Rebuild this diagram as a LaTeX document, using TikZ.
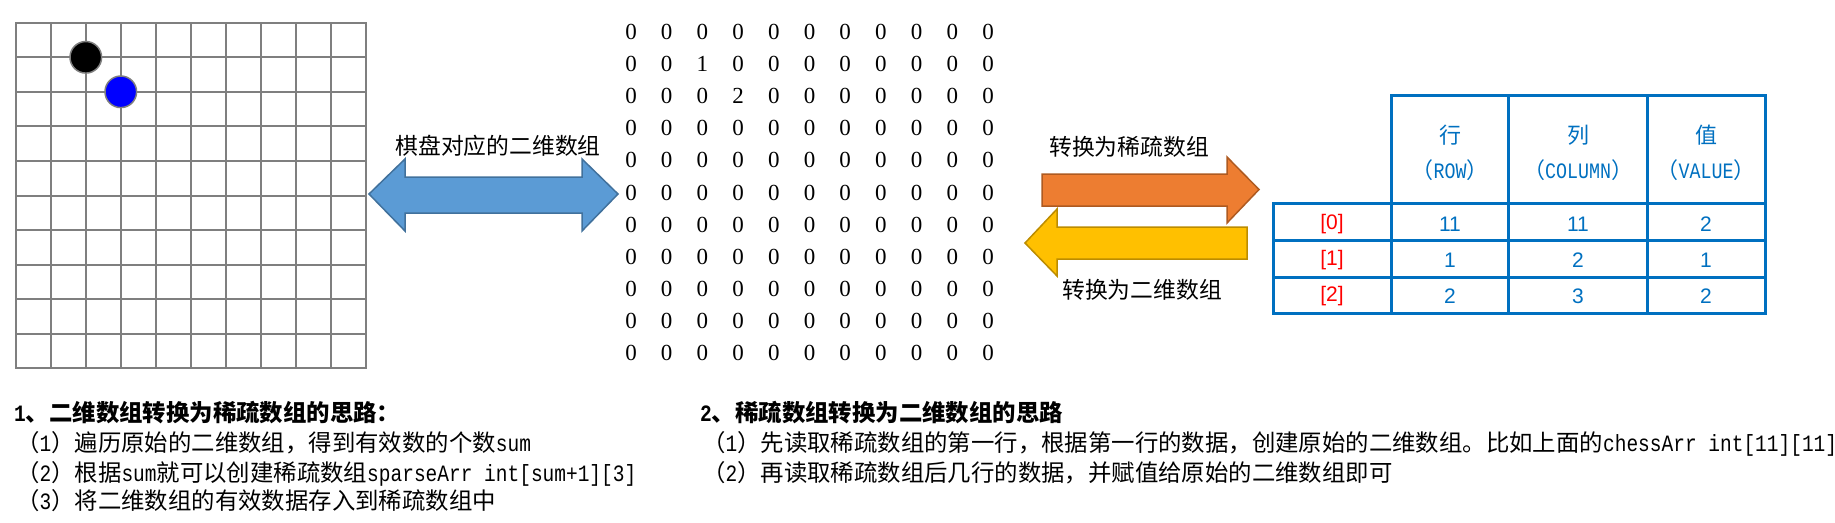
\documentclass[tikz,border=0pt]{standalone}
\usepackage{fontspec}
\setmainfont{Noto Sans CJK SC}
\newfontfamily\hwfont{Liberation Mono}[FakeStretch=0.8333]
\newfontfamily\digitfont{Liberation Serif}
\newfontfamily\arialfont{Liberation Sans}
\newcommand\hw[1]{{\hwfont #1}}
\definecolor{gridgray}{HTML}{7F7F7F}
\definecolor{dblfill}{HTML}{5B9BD5}
\definecolor{dbldraw}{HTML}{41719C}
\definecolor{orfill}{HTML}{ED7D31}
\definecolor{ordraw}{HTML}{AE5A21}
\definecolor{yefill}{HTML}{FFC000}
\definecolor{yedraw}{HTML}{BC8C00}
\definecolor{tblue}{HTML}{0070C0}
\definecolor{tred}{HTML}{FF0000}
\tikzset{
  gridline/.style={draw=gridgray, line width=2pt},
  stone/.style={circle, draw=gridgray, line width=1.5pt, minimum size=31.6pt, inner sep=0pt},
  digit/.style={inner sep=0pt, font=\digitfont\fontsize{23}{26}\selectfont},
  lbl/.style={inner sep=0pt, font=\fontsize{22.8}{27}\selectfont},
  tline/.style={draw=tblue, line width=3pt},
  hdr/.style={inner sep=0pt, text=tblue, font=\fontsize{22}{26}\selectfont},
  cellv/.style={inner sep=0pt, text=tblue, font=\arialfont\fontsize{21}{25}\selectfont},
  idx/.style={inner sep=0pt, text=tred, font=\arialfont\fontsize{21}{25}\selectfont},
  txt/.style={inner sep=0pt, anchor=base west, font=\fontsize{23.4}{28}\selectfont},
  blockarrow/.style={line width=1.5pt, line join=miter},
}
\begin{document}
\begin{tikzpicture}[x=1pt,y=-1pt]
\useasboundingbox (0,0) rectangle (1835,522);
% chess board grid
\foreach \i in {0,...,10}{
  \draw[gridline] (15.7+35.03*\i,22.7) -- (15.7+35.03*\i,368.3);
  \draw[gridline] (15.7,22.7+34.56*\i) -- (366,22.7+34.56*\i);
}
\draw[gridline, line join=miter] (15.7,22.7) rectangle (366,368.3);
\node[stone, fill=black] (blackstone) at (85.8,57.3) {};
\node[stone, fill=blue] (bluestone) at (120.8,91.8) {};
% double arrow
\draw[blockarrow, fill=dblfill, draw=dbldraw] (369,194) -- (405,159) -- (405,177) -- (582,177) -- (582,159) -- (618,194) -- (582,231) -- (582,213) -- (405,213) -- (405,231) -- cycle;
\node[lbl] (lblboard) at (498,146) {棋盘对应的二维数组};
% matrix
\foreach \r in {0,...,10}{
  \foreach \c in {0,...,10}{
    \def\v{0}
    \ifnum\r=1 \ifnum\c=2 \def\v{1}\fi\fi
    \ifnum\r=2 \ifnum\c=3 \def\v{2}\fi\fi
    \node[digit] (m-\r-\c) at (631+35.7*\c, 32+32.1*\r) {\v};
  }
}
% orange arrow
\draw[blockarrow, fill=orfill, draw=ordraw] (1042,174) -- (1227,174) -- (1227,157) -- (1259,189.5) -- (1227,223) -- (1227,206) -- (1042,206) -- cycle;
\node[lbl] (lblsparse) at (1129,147) {转换为稀疏数组};
% yellow arrow
\draw[blockarrow, fill=yefill, draw=yedraw] (1247,227) -- (1057,227) -- (1057,209) -- (1025,243) -- (1057,276) -- (1057,259) -- (1247,259) -- cycle;
\node[lbl] (lbltwo) at (1142,290) {转换为二维数组};
% table
\draw[tline, line join=miter] (1391,95) rectangle (1765,313);
\draw[tline] (1508,95) -- (1508,313);
\draw[tline] (1647,95) -- (1647,313);
\draw[tline, line join=miter] (1273,203) rectangle (1765,313);
\draw[tline] (1273,240) -- (1765,240);
\draw[tline] (1273,277) -- (1765,277);
\node[hdr] (h1a) at (1450,135) {行};
\node[hdr] (h1b) at (1450,170) {（\hw{ROW}）};
\node[hdr] (h2a) at (1578,135) {列};
\node[hdr] (h2b) at (1578,170) {（\hw{COLUMN}）};
\node[hdr] (h3a) at (1706,135) {值};
\node[hdr] (h3b) at (1706,170) {（\hw{VALUE}）};
\node[idx] (r0) at (1332,224) {[0]};
\node[idx] (r1) at (1332,260) {[1]};
\node[idx] (r2) at (1332,296) {[2]};
\node[cellv] (c01) at (1450,224) {11};
\node[cellv] (c02) at (1578,224) {11};
\node[cellv] (c03) at (1706,224) {2};
\node[cellv] (c11) at (1450,260) {1};
\node[cellv] (c12) at (1578,260) {2};
\node[cellv] (c13) at (1706,260) {1};
\node[cellv] (c21) at (1450,296) {2};
\node[cellv] (c22) at (1578,296) {3};
\node[cellv] (c23) at (1706,296) {2};
% bottom text
\node[txt] (s1t) at (14,421) {\bfseries\hw{1}、二维数组转换为稀疏数组的思路：};
\node[txt] (s1a) at (16,451) {（\hw{1}）遍历原始的二维数组，得到有效数的个数\hw{sum}};
\node[txt] (s1b) at (16,481) {（\hw{2}）根据\hw{sum}就可以创建稀疏数组\hw{sparseArr int[sum+1][3]}};
\node[txt] (s1c) at (16,509) {（\hw{3}）将二维数组的有效数据存入到稀疏数组中};
\node[txt] (s2t) at (700,421) {\bfseries\hw{2}、稀疏数组转换为二维数组的思路};
\node[txt] (s2a) at (702,451) {（\hw{1}）先读取稀疏数组的第一行，根据第一行的数据，创建原始的二维数组。比如上面的\hw{chessArr int[11][11]}};
\node[txt] (s2b) at (702,481) {（\hw{2}）再读取稀疏数组后几行的数据，并赋值给原始的二维数组即可};
\end{tikzpicture}
\end{document}
